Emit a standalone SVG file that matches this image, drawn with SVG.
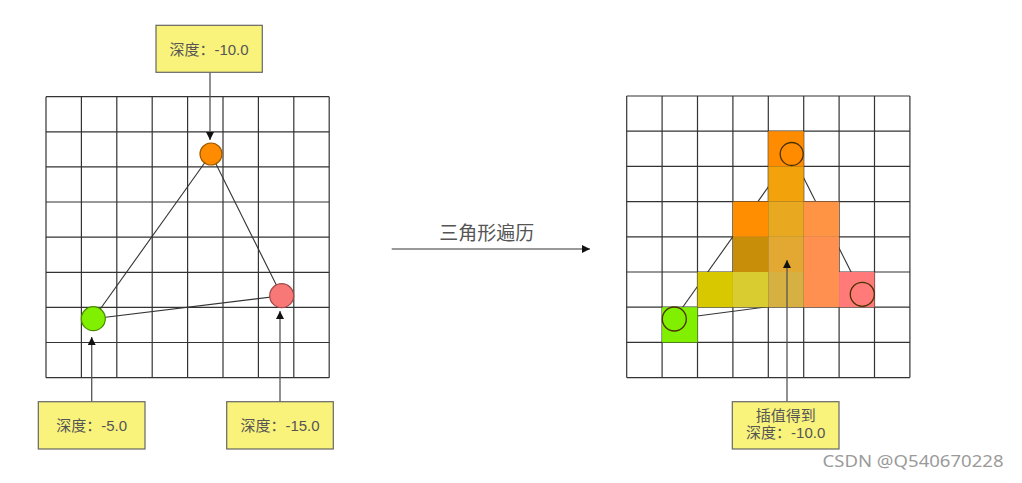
<svg xmlns="http://www.w3.org/2000/svg" width="1022" height="483" viewBox="0 0 1022 483">
<style>
.grid line{stroke:#333;stroke-width:1.2}
.edge{stroke:#333;stroke-width:1.1;fill:none}
.arr{stroke:#555;stroke-width:1.3;fill:none;marker-end:url(#ah)}
.box{fill:#F9F37C;stroke:#666;stroke-width:1.2}
.lbl{font-family:"Liberation Sans","Noto Sans CJK SC",sans-serif;font-size:15px;fill:#555;text-anchor:middle}
.ring{fill:none;stroke:#4a3000;stroke-width:1.3}
</style>
<defs>
<marker id="ah" viewBox="0 0 10 10" refX="10" refY="5" markerWidth="9" markerHeight="8" markerUnits="userSpaceOnUse" orient="auto">
<path d="M0,0 L10,5 L0,10 z" fill="#111"/>
</marker>
</defs>
<rect width="1022" height="483" fill="#fff"/>

<!-- left grid -->
<g id="left-grid" class="grid">
<line x1="46" y1="96.7" x2="46" y2="377.7"/><line x1="81.4" y1="96.7" x2="81.4" y2="377.7"/><line x1="116.8" y1="96.7" x2="116.8" y2="377.7"/><line x1="152.2" y1="96.7" x2="152.2" y2="377.7"/><line x1="187.6" y1="96.7" x2="187.6" y2="377.7"/><line x1="223" y1="96.7" x2="223" y2="377.7"/><line x1="258.4" y1="96.7" x2="258.4" y2="377.7"/><line x1="293.8" y1="96.7" x2="293.8" y2="377.7"/><line x1="329.2" y1="96.7" x2="329.2" y2="377.7"/>
<line x1="46" y1="96.7" x2="329.2" y2="96.7"/><line x1="46" y1="131.8" x2="329.2" y2="131.8"/><line x1="46" y1="166.9" x2="329.2" y2="166.9"/><line x1="46" y1="202" x2="329.2" y2="202"/><line x1="46" y1="237.2" x2="329.2" y2="237.2"/><line x1="46" y1="272.3" x2="329.2" y2="272.3"/><line x1="46" y1="307.4" x2="329.2" y2="307.4"/><line x1="46" y1="342.5" x2="329.2" y2="342.5"/><line x1="46" y1="377.7" x2="329.2" y2="377.7"/>
</g>

<!-- right grid -->
<g id="right-grid" class="grid">
<line x1="626.7" y1="96" x2="626.7" y2="377.6"/><line x1="662.1" y1="96" x2="662.1" y2="377.6"/><line x1="697.5" y1="96" x2="697.5" y2="377.6"/><line x1="732.9" y1="96" x2="732.9" y2="377.6"/><line x1="768.3" y1="96" x2="768.3" y2="377.6"/><line x1="803.7" y1="96" x2="803.7" y2="377.6"/><line x1="839.1" y1="96" x2="839.1" y2="377.6"/><line x1="874.5" y1="96" x2="874.5" y2="377.6"/><line x1="909.9" y1="96" x2="909.9" y2="377.6"/>
<line x1="626.7" y1="96" x2="909.9" y2="96"/><line x1="626.7" y1="131.2" x2="909.9" y2="131.2"/><line x1="626.7" y1="166.4" x2="909.9" y2="166.4"/><line x1="626.7" y1="201.6" x2="909.9" y2="201.6"/><line x1="626.7" y1="236.8" x2="909.9" y2="236.8"/><line x1="626.7" y1="272" x2="909.9" y2="272"/><line x1="626.7" y1="307.2" x2="909.9" y2="307.2"/><line x1="626.7" y1="342.4" x2="909.9" y2="342.4"/><line x1="626.7" y1="377.6" x2="909.9" y2="377.6"/>
</g>

<!-- connectors -->
<g id="connectors">
<line class="edge" x1="211" y1="154" x2="93.3" y2="318.7"/>
<line class="edge" x1="93.3" y1="318.7" x2="281.7" y2="295.7"/>
<line class="edge" x1="281.7" y1="295.7" x2="211" y2="154"/>
<line class="edge" x1="791.7" y1="154" x2="674.3" y2="319"/>
<line class="edge" x1="674.3" y1="319" x2="862.3" y2="294.3"/>
<line class="edge" x1="862.3" y1="294.3" x2="791.7" y2="154"/>
<line class="arr" x1="210" y1="72.3" x2="210" y2="140"/>
<line class="arr" x1="91.7" y1="401.7" x2="91.7" y2="337"/>
<line class="arr" x1="280" y1="401.7" x2="280" y2="311"/>
<line class="arr" x1="391.7" y1="249" x2="590" y2="249" style="stroke:#777;stroke-width:1.6"/>
</g>

<!-- rasterized cells -->
<g id="cells">
<rect x="768.3" y="131.2" width="35.4" height="35.2" fill="#FF8C00"/>
<rect x="768.3" y="166.4" width="35.4" height="35.2" fill="#F2A20A"/>
<rect x="732.9" y="201.6" width="35.4" height="35.2" fill="#FF8E00"/>
<rect x="768.3" y="201.6" width="35.4" height="35.2" fill="#E8A820"/>
<rect x="803.7" y="201.6" width="35.4" height="35.2" fill="#FF9444"/>
<rect x="732.9" y="236.8" width="35.4" height="35.2" fill="#C88E0A"/>
<rect x="768.3" y="236.8" width="35.4" height="35.2" fill="#E2A832"/>
<rect x="803.7" y="236.8" width="35.4" height="35.2" fill="#FF9050"/>
<rect x="697.5" y="272" width="35.4" height="35.2" fill="#D8C800"/>
<rect x="732.9" y="272" width="35.4" height="35.2" fill="#D8CC30"/>
<rect x="768.3" y="272" width="35.4" height="35.2" fill="#D6B040"/>
<rect x="803.7" y="272" width="35.4" height="35.2" fill="#FF9050"/>
<rect x="839.1" y="272" width="35.4" height="35.2" fill="#FF7A78"/>
<rect x="662.1" y="307.2" width="35.4" height="35.2" fill="#80F000"/>
</g>

<g id="connectors-top">
<line class="arr" x1="787" y1="401.7" x2="787" y2="260"/>
</g>

<!-- vertices left -->
<g id="v-top"><circle cx="211" cy="154" r="11" fill="#FF8C00" stroke="#A05A00" stroke-width="1.2"/></g>
<g id="v-left"><circle cx="93.3" cy="318.7" r="12" fill="#80F000" stroke="#4A8A00" stroke-width="1.2"/></g>
<g id="v-right"><circle cx="281.7" cy="295.7" r="12" fill="#F87878" stroke="#A04848" stroke-width="1.2"/></g>

<!-- vertices right -->
<g id="rv-top"><circle class="ring" cx="791.7" cy="154" r="11.5"/></g>
<g id="rv-left"><circle class="ring" cx="674.3" cy="319" r="12" stroke="#2F5A00"/></g>
<g id="rv-right"><circle class="ring" cx="862.3" cy="294.3" r="12" stroke="#6A2A2A"/></g>

<!-- labels -->
<g id="label-top"><rect class="box" x="156" y="25.3" width="106.3" height="47"/><text class="lbl" x="209" y="54.5">深度：-10.0</text></g>
<g id="label-left"><rect class="box" x="38.3" y="401.7" width="106.7" height="47.3"/><text class="lbl" x="91.7" y="430.5">深度：-5.0</text></g>
<g id="label-right"><rect class="box" x="226.7" y="401.7" width="106.6" height="47.3"/><text class="lbl" x="280" y="430.5">深度：-15.0</text></g>
<g id="label-interp"><rect class="box" x="732.3" y="401.7" width="106.7" height="47.3"/><text class="lbl" x="785.7" y="420.5">插值得到</text><text class="lbl" x="785.7" y="438">深度：-10.0</text></g>

<g id="step-label"><text x="486.7" y="240" font-family="'Noto Sans CJK SC',sans-serif" font-size="19" fill="#555" text-anchor="middle">三角形遍历</text></g>

<text x="822.5" y="467" font-family="'Noto Sans','Liberation Sans',sans-serif" font-size="17" fill="#9a9a9a" textLength="181" lengthAdjust="spacingAndGlyphs">CSDN @Q540670228</text>
</svg>
